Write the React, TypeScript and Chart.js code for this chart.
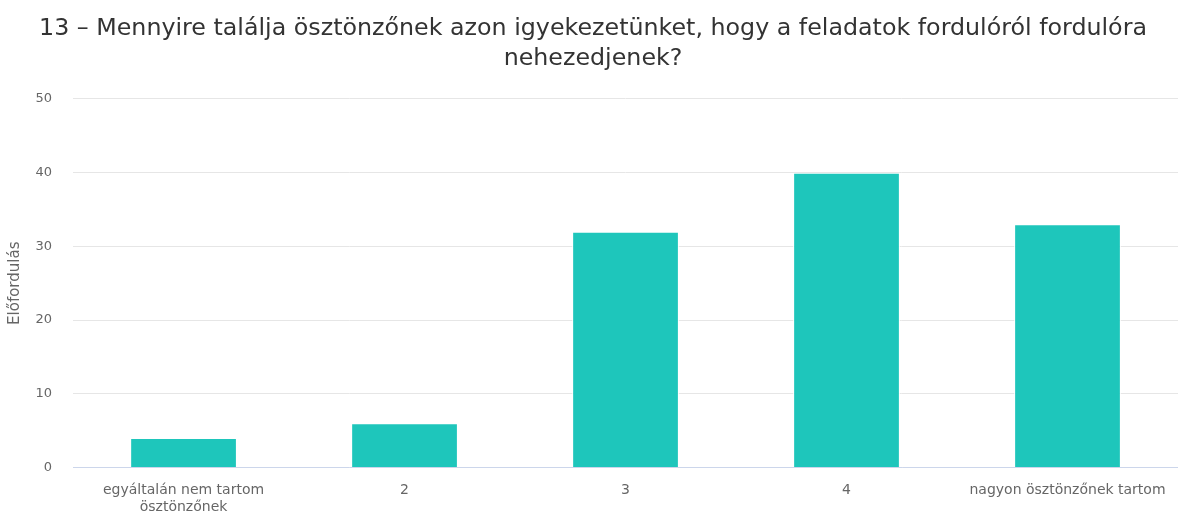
import React, { useEffect, useRef } from "react";
import { Chart, registerables } from "chart.js";

Chart.register(...registerables);

const titleLines = [
  "13 – Mennyire találja ösztönzőnek azon igyekezetünket, hogy a feladatok fordulóról fordulóra",
  "nehezedjenek?",
];
const categories: (string | string[])[] = [
  ["egyáltalán nem tartom", "ösztönzőnek"],
  "2",
  "3",
  "4",
  "nagyon ösztönzőnek tartom",
];
const values = [4, 6, 32, 40, 33];
const yAxisTitle = "Előfordulás";
const FONT = "'DejaVu Sans', Verdana, sans-serif";

export default function App() {
  const ref = useRef<HTMLCanvasElement>(null);
  useEffect(() => {
    document.body.style.margin = "0";
    const chart = new Chart(ref.current!, {
      type: "bar",
      data: {
        labels: categories,
        datasets: [
          {
            data: values,
            backgroundColor: "#1ec6bb",
            borderColor: "#ffffff",
            borderWidth: 1,
            categoryPercentage: 1,
            barPercentage: 0.483,
          },
        ],
      },
      options: {
        animation: false,
        responsive: false,
        layout: { padding: { left: 6, right: -2, top: 0, bottom: -2.5 } },
        plugins: {
          legend: { display: false },
          tooltip: { enabled: false },
          title: {
            display: true,
            text: titleLines,
            color: "#333333",
            font: { family: FONT, size: 23.75, weight: "normal", lineHeight: 1.263 },
            padding: { top: 14, bottom: 25 },
          },
        },
        scales: {
          x: {
            grid: { display: false, drawTicks: true, tickLength: 14 },
            border: { color: "#ccd6eb", width: 1 },
            ticks: {
              color: "#666666",
              font: { family: FONT, size: 14, lineHeight: 1.214 },
              maxRotation: 0,
              autoSkip: false,
              padding: 0,
            },
          },
          y: {
            min: 0,
            max: 50,
            ticks: {
              stepSize: 10,
              color: "#666666",
              font: { family: FONT, size: 13 },
              padding: 21,
            },
            grid: { color: "#e6e6e6", drawTicks: false },
            border: { display: false },
            title: {
              display: true,
              text: yAxisTitle,
              color: "#666666",
              font: { family: FONT, size: 15, lineHeight: 1.2 },
              padding: { top: 0, bottom: -9.5 },
            },
          },
        },
      },
    });
    return () => chart.destroy();
  }, []);
  return <canvas ref={ref} width={1178} height={513} style={{ display: "block" }} />;
}
